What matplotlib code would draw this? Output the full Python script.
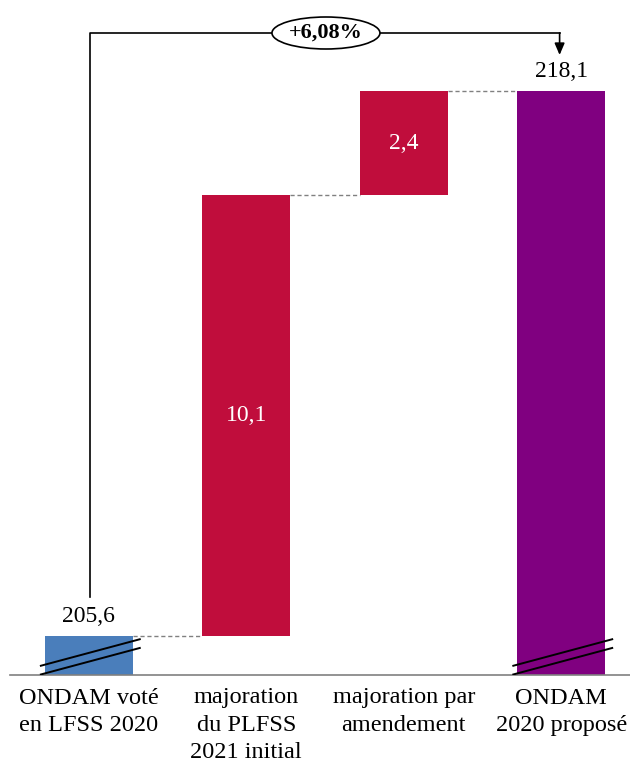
import matplotlib
matplotlib.use("Agg")
import matplotlib.pyplot as plt
from matplotlib.patches import Ellipse

categories = ["ONDAM voté\nen LFSS 2020", "majoration\ndu PLFSS\n2021 initial",
              "majoration par\namendement", "ONDAM\n2020 proposé"]
start_value = 205.6
increments = [10.1, 2.4]
end_value = 218.1
value_labels = ["205,6", "10,1", "2,4", "218,1"]
growth_label = "+6,08%"

y_floor = 204.7
colors = ["#4a7ebb", "#c00d3c", "#c00d3c", "#800080"]

plt.rcParams['font.family'] = ['Liberation Serif', 'DejaVu Serif']

fig = plt.figure(figsize=(6.3, 7.65), dpi=100)
ax = fig.add_axes([10/630, 90/765, 620/630, 665/765])
ax.set_xlim(-0.5, 3.437)
ppu = 43.6
ax.set_ylim(y_floor, y_floor + 665/ppu)

w = 0.56
bottoms = [y_floor, start_value, start_value + increments[0], y_floor]
heights = [start_value - y_floor, increments[0], increments[1], end_value - y_floor]
xs = range(4)
ax.bar(xs, heights, bottom=bottoms, width=w, color=colors, zorder=2)

# connectors
tops = [start_value, start_value + increments[0], start_value + sum(increments)]
for i, t in enumerate(tops):
    ax.plot([i + w/2, i + 1 - w/2], [t, t], ls=(0, (3, 2)), color="#808080", lw=1, zorder=1)

# break marks
for xi in [0, 3]:
    for off in [0.0, -0.2]:
        x0, x1 = xi - 0.31, xi + 0.33
        y0 = y_floor + (675 - 666)/ppu + off
        y1 = y_floor + (675 - 639)/ppu + off
        ax.plot([x0, x1], [y0, y1], color="black", lw=1.4, zorder=3, solid_capstyle="butt")

# labels
fs = 17
ax.text(0, start_value + 0.2, value_labels[0], ha="center", va="bottom", fontsize=fs)
ax.text(1, start_value + increments[0]/2, value_labels[1], ha="center", va="center", fontsize=fs, color="white")
ax.text(2, start_value + increments[0] + increments[1]/2, value_labels[2], ha="center", va="center", fontsize=fs, color="white")
ax.text(3, end_value + 0.2, value_labels[3], ha="center", va="bottom", fontsize=fs)

# bracket
yb = y_floor + (675 - 33)/ppu
ax.plot([0.005, 0.005, 2.99], [start_value + 0.9, yb, yb], color="black", lw=1.2, zorder=3)
ax.annotate("", xy=(2.99, y_floor + (675 - 55)/ppu), xytext=(2.99, yb),
            arrowprops=dict(arrowstyle="-|>,head_length=0.7,head_width=0.3", color="black", lw=1.2,
                            shrinkA=0, shrinkB=0))
ex = 1.5 + (326 - 325)/157.5
ax.add_patch(Ellipse((ex, yb), width=108/157.5, height=32/ppu, facecolor="white",
                     edgecolor="black", lw=1.2, zorder=4))
ax.text(ex, yb, growth_label, ha="center", va="center", fontsize=16, fontweight="bold", zorder=5)

ax.set_xticks(list(xs))
ax.set_xticklabels(categories, fontsize=17.5, va="top")
for lab in ax.get_xticklabels():
    lab.set_linespacing(1.4)
ax.tick_params(axis="x", length=0, pad=9)
ax.set_yticks([])
for s in ["top", "left", "right"]:
    ax.spines[s].set_visible(False)
ax.spines["bottom"].set_color("#808080")
ax.spines["bottom"].set_linewidth(1.2)

fig.savefig("out.png", dpi=100)
